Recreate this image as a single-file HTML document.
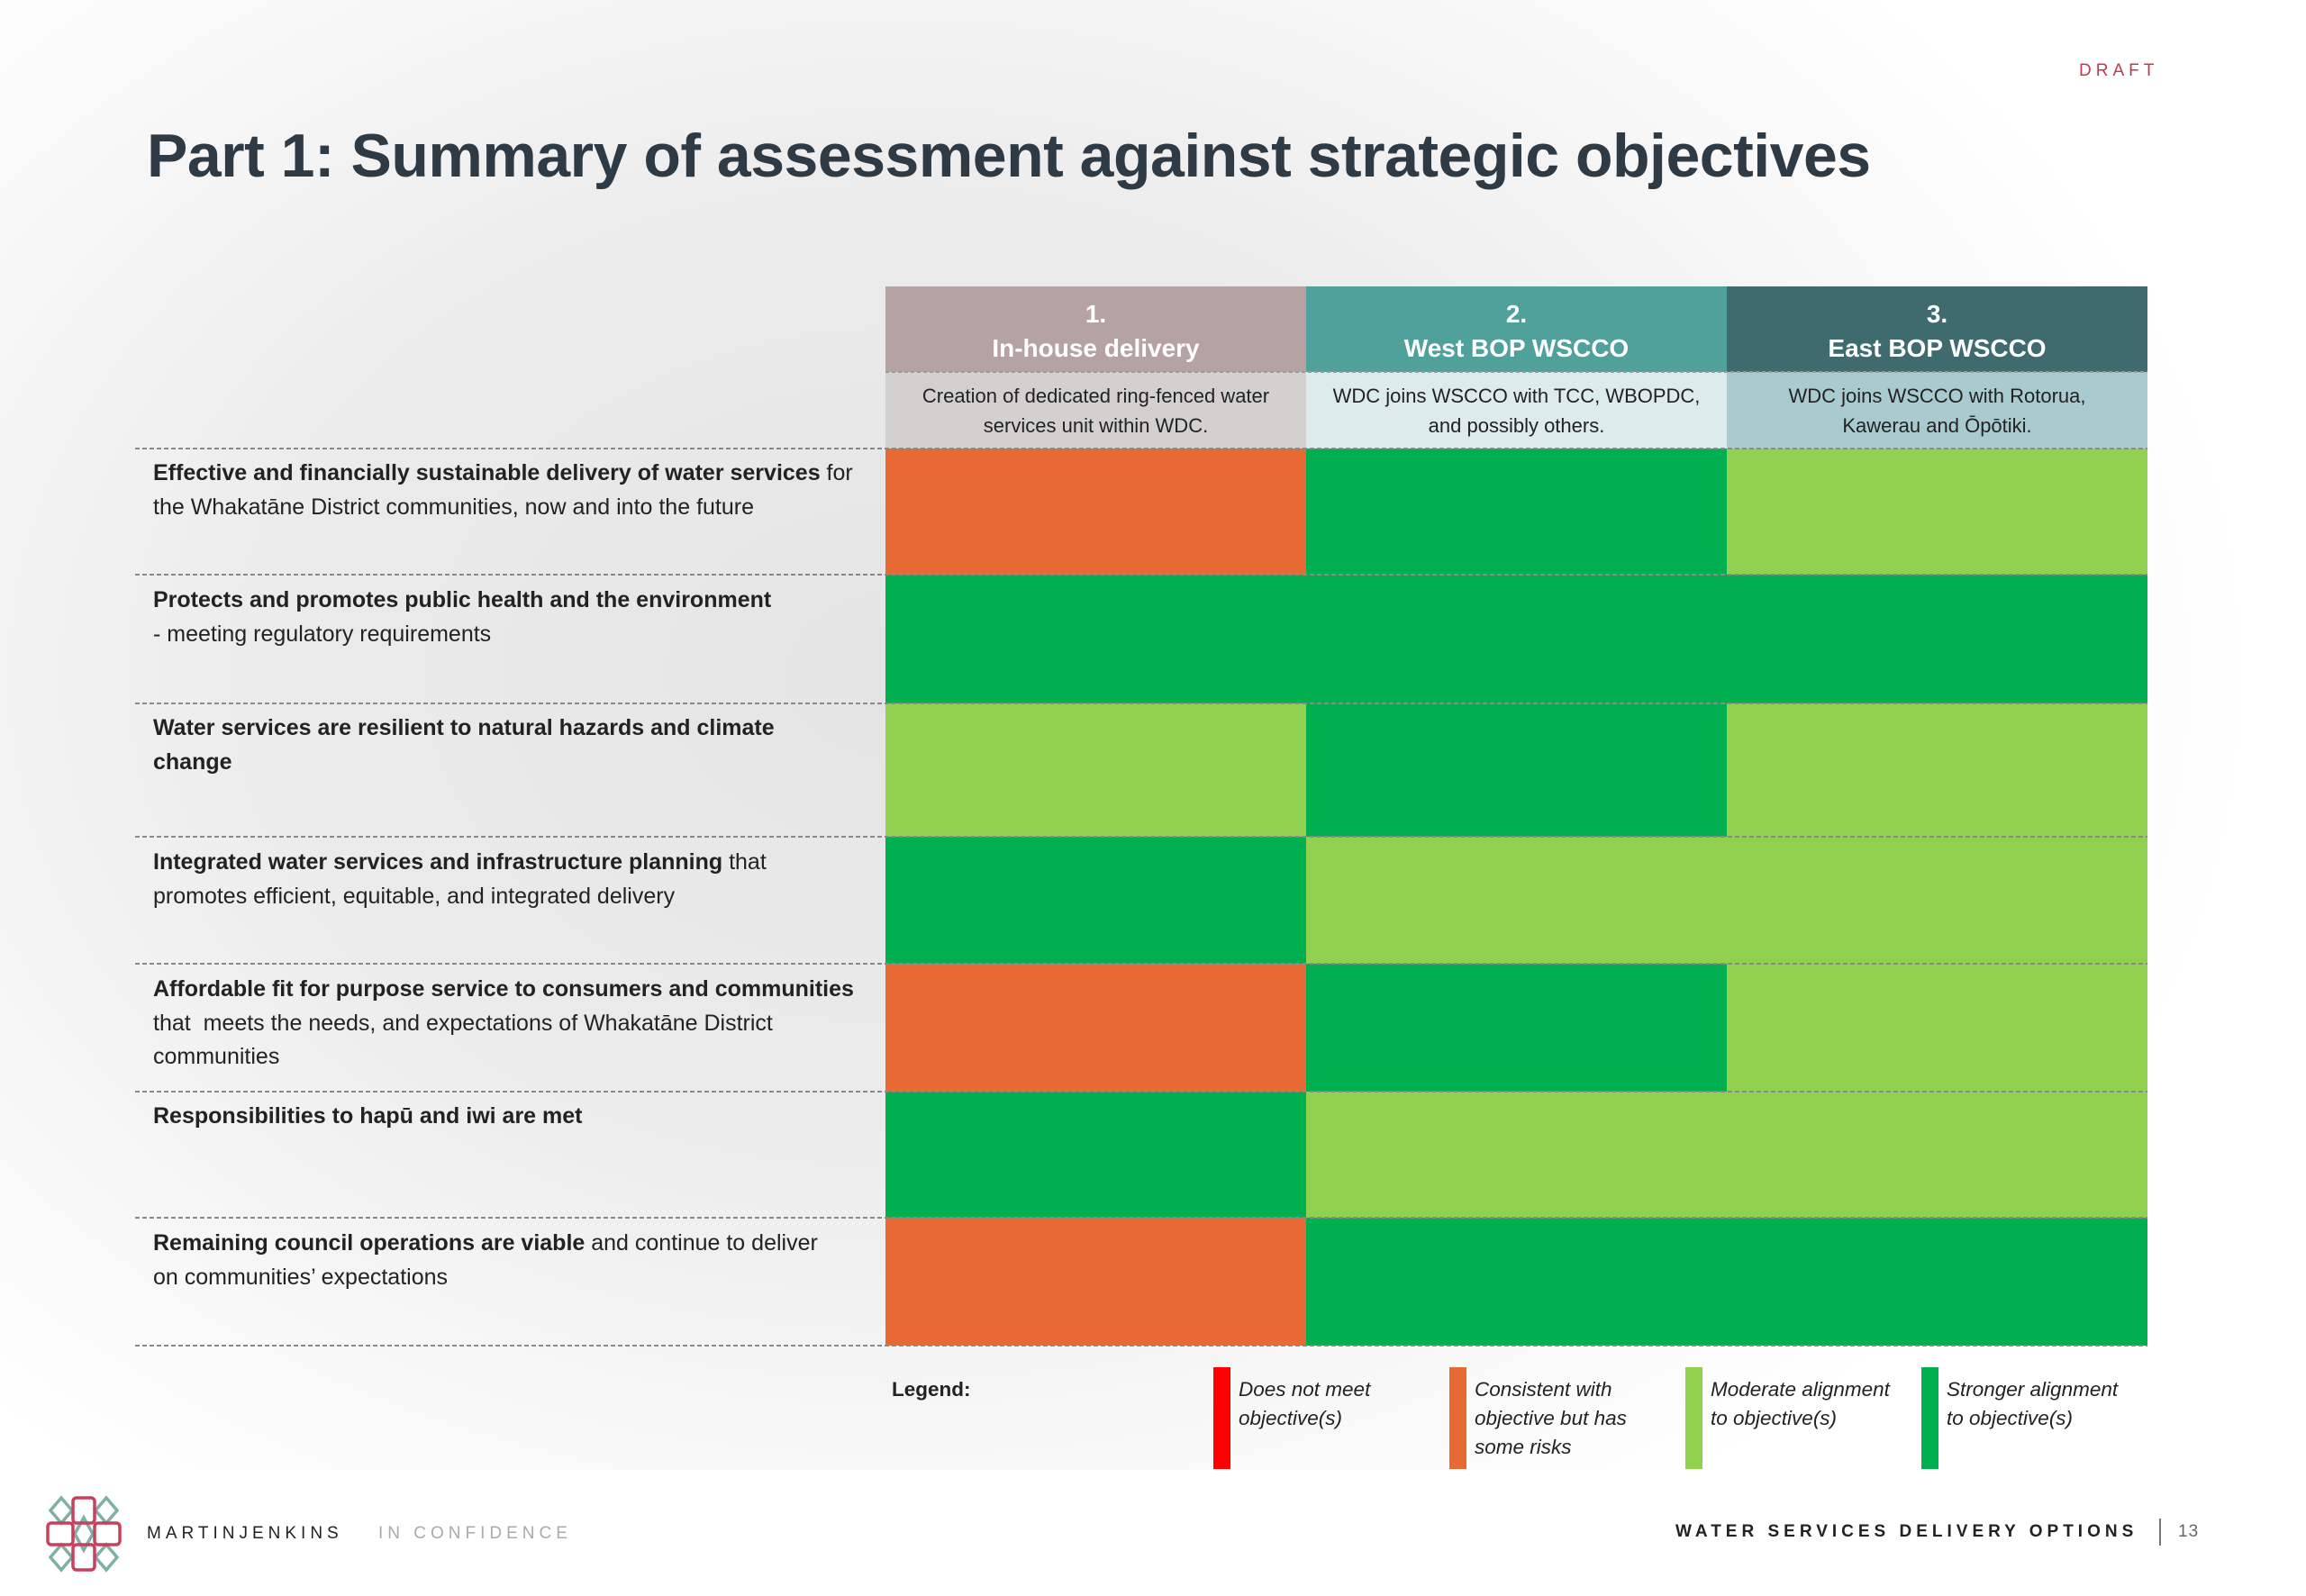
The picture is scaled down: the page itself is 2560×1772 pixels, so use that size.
<!DOCTYPE html>
<html><head><meta charset="utf-8">
<style>
html,body{margin:0;padding:0}
body{width:2560px;height:1772px;position:relative;overflow:hidden;font-family:"Liberation Sans",sans-serif;
background:radial-gradient(ellipse 1500px 1100px at 1000px 750px,#e4e4e4 0%,#ebebeb 45%,#f6f6f6 75%,#ffffff 100%);}
.abs{position:absolute}
#footer-bg{left:0;top:1632px;width:2560px;height:140px;background:#fff}
#title{left:163px;top:134px;font-size:68px;font-weight:bold;color:#2E3A44;letter-spacing:-0.5px;white-space:nowrap}
#draft{left:2308px;top:68px;font-size:19px;letter-spacing:5px;color:#C0394F}
.rowlab{position:absolute;left:170px;font-size:25px;line-height:37.5px;color:#222;white-space:nowrap}
.hd{position:absolute;color:#fff;font-weight:bold;font-size:28px;line-height:38px;text-align:center}
.sub{position:absolute;color:#222;font-size:22px;line-height:33px;text-align:center}
.leg{position:absolute;font-style:italic;font-size:22.5px;line-height:32px;color:#222}
.ft{position:absolute;font-size:19px;letter-spacing:5px}
</style></head><body>
<div class="abs" id="footer-bg"></div>
<div class="abs" id="draft">DRAFT</div>
<div class="abs" id="title">Part 1: Summary of assessment against strategic objectives</div>

<svg class="abs" style="left:0;top:0" width="2560" height="1772" id="grid"></svg>

<div class="hd" style="left:983px;top:330px;width:467px">1.<br>In-house delivery</div>
<div class="hd" style="left:1450px;top:330px;width:467px">2.<br>West BOP WSCCO</div>
<div class="hd" style="left:1917px;top:330px;width:467px">3.<br>East BOP WSCCO</div>
<div class="sub" style="left:983px;top:423px;width:467px">Creation of dedicated ring-fenced water<br>services unit within WDC.</div>
<div class="sub" style="left:1450px;top:423px;width:467px">WDC joins WSCCO with TCC, WBOPDC,<br>and possibly others.</div>
<div class="sub" style="left:1917px;top:423px;width:467px">WDC joins WSCCO with Rotorua,<br>Kawerau and Ōpōtiki.</div>

<div class="rowlab" style="top:507px"><b>Effective and financially sustainable delivery of water services</b> for<br>the Whakatāne District communities, now and into the future</div>
<div class="rowlab" style="top:648px"><b>Protects and promotes public health and the environment</b><br>- meeting regulatory requirements</div>
<div class="rowlab" style="top:790px"><b>Water services are resilient to natural hazards and climate<br>change</b></div>
<div class="rowlab" style="top:939px"><b>Integrated water services and infrastructure planning</b> that<br>promotes efficient, equitable, and integrated delivery</div>
<div class="rowlab" style="top:1080px"><b>Affordable fit for purpose service to consumers and communities</b><br>that &nbsp;meets the needs, and expectations of Whakatāne District<br>communities</div>
<div class="rowlab" style="top:1221px"><b>Responsibilities to hapū and iwi are met</b></div>
<div class="rowlab" style="top:1362px"><b>Remaining council operations are viable</b> and continue to deliver<br>on communities’ expectations</div>

<div class="leg" style="left:990px;top:1527px;font-style:normal;font-weight:bold">Legend:</div>
<div class="abs" style="left:1347px;top:1518px;width:19px;height:113px;background:#FF0000"></div>
<div class="leg" style="left:1375px;top:1527px">Does not meet<br>objective(s)</div>
<div class="abs" style="left:1609px;top:1518px;width:19px;height:113px;background:#E76A35"></div>
<div class="leg" style="left:1637px;top:1527px">Consistent with<br>objective but has<br>some risks</div>
<div class="abs" style="left:1871px;top:1518px;width:19px;height:113px;background:#92D050"></div>
<div class="leg" style="left:1899px;top:1527px">Moderate alignment<br>to objective(s)</div>
<div class="abs" style="left:2133px;top:1518px;width:19px;height:113px;background:#00B050"></div>
<div class="leg" style="left:2161px;top:1527px">Stronger alignment<br>to objective(s)</div>

<svg class="abs" style="left:50px;top:1660px" width="86" height="86" viewBox="0 0 86 86">
<g fill="none" stroke="#7FB0A6" stroke-width="3.5">
<path d="M18 3 L30 17 L18 31 L6 17Z"/><path d="M68 3 L80 17 L68 31 L56 17Z"/>
<path d="M18 55 L30 69 L18 83 L6 69Z"/><path d="M68 55 L80 69 L68 83 L56 69Z"/>
<path d="M43 25 L53 43 L43 61 L33 43Z"/></g>
<g fill="none" stroke="#C7415D" stroke-width="3.5">
<rect x="31" y="3" width="24" height="28" rx="4"/><rect x="31" y="55" width="24" height="28" rx="4"/>
<rect x="3" y="31" width="28" height="24" rx="4"/><rect x="55" y="31" width="28" height="24" rx="4"/></g>
</svg>
<div class="ft" style="left:163px;top:1692px;color:#222">MARTINJENKINS</div>
<div class="ft" style="left:420px;top:1692px;color:#aaa">IN CONFIDENCE</div>
<div class="ft" style="left:1860px;top:1690px;color:#222;font-weight:bold">WATER SERVICES DELIVERY OPTIONS</div>
<div class="abs" style="left:2397px;top:1686px;width:2px;height:30px;background:#777"></div>
<div class="ft" style="left:2418px;top:1690px;color:#666;letter-spacing:1px">13</div>

<script>
const options = ["In-house delivery","West BOP WSCCO","East BOP WSCCO"];
const objectives = ["Effective delivery","Public health","Resilience","Integrated planning","Affordable","Hapu and iwi","Council viability"];
// rating: 0 = does not meet, 1 = consistent with risks, 2 = moderate, 3 = stronger
const ratingOption1 = [1,3,2,3,1,3,1];
const ratingOption2 = [3,3,3,2,3,2,3];
const ratingOption3 = [2,3,2,2,2,2,3];
const ratingColors = ["#FF0000","#E76A35","#92D050","#00B050"];

const svg = document.getElementById('grid');
const NS = "http://www.w3.org/2000/svg";
const colX = [983,1450,1917,2384];
const rowY = [498,638,781,929,1070,1212,1352,1494];
function xScale(i){return colX[i];}
function yScale(j){return rowY[j];}
function mk(tag,attrs){const e=document.createElementNS(NS,tag);for(const k in attrs)e.setAttribute(k,attrs[k]);svg.appendChild(e);return e;}
const hdrC=["#B5A2A3","#50A09C","#3F6B6E"], subC=["#D3D0D0","#DDEBEC","#A9CBD0"];
options.forEach((o,i)=>{
  const h=mk('rect',{x:xScale(i),y:318,width:xScale(i+1)-xScale(i),height:95,fill:hdrC[i]});
  
  
  const s=mk('rect',{x:xScale(i),y:413,width:xScale(i+1)-xScale(i),height:85,fill:subC[i]});
  
  
});
const series=[ratingOption1,ratingOption2,ratingOption3];
series.forEach((vals,i)=>{
  vals.forEach((v,j)=>{
    const r=mk('rect',{x:xScale(i),y:yScale(j),width:xScale(i+1)-xScale(i),height:yScale(j+1)-yScale(j),fill:ratingColors[v]});
    
    
  });
});
rowY.forEach((y,j)=>{
  const l=mk('line',{x1:150,x2:2384,y1:y,y2:y,stroke:'#8a8a8a','stroke-width':2,'stroke-dasharray':'5,3'});
  
  
});
const l2=mk('line',{x1:983,x2:2384,y1:413,y2:413,stroke:'#9a9a9a','stroke-width':2,'stroke-dasharray':'4,3'});


</script>
</body></html>
